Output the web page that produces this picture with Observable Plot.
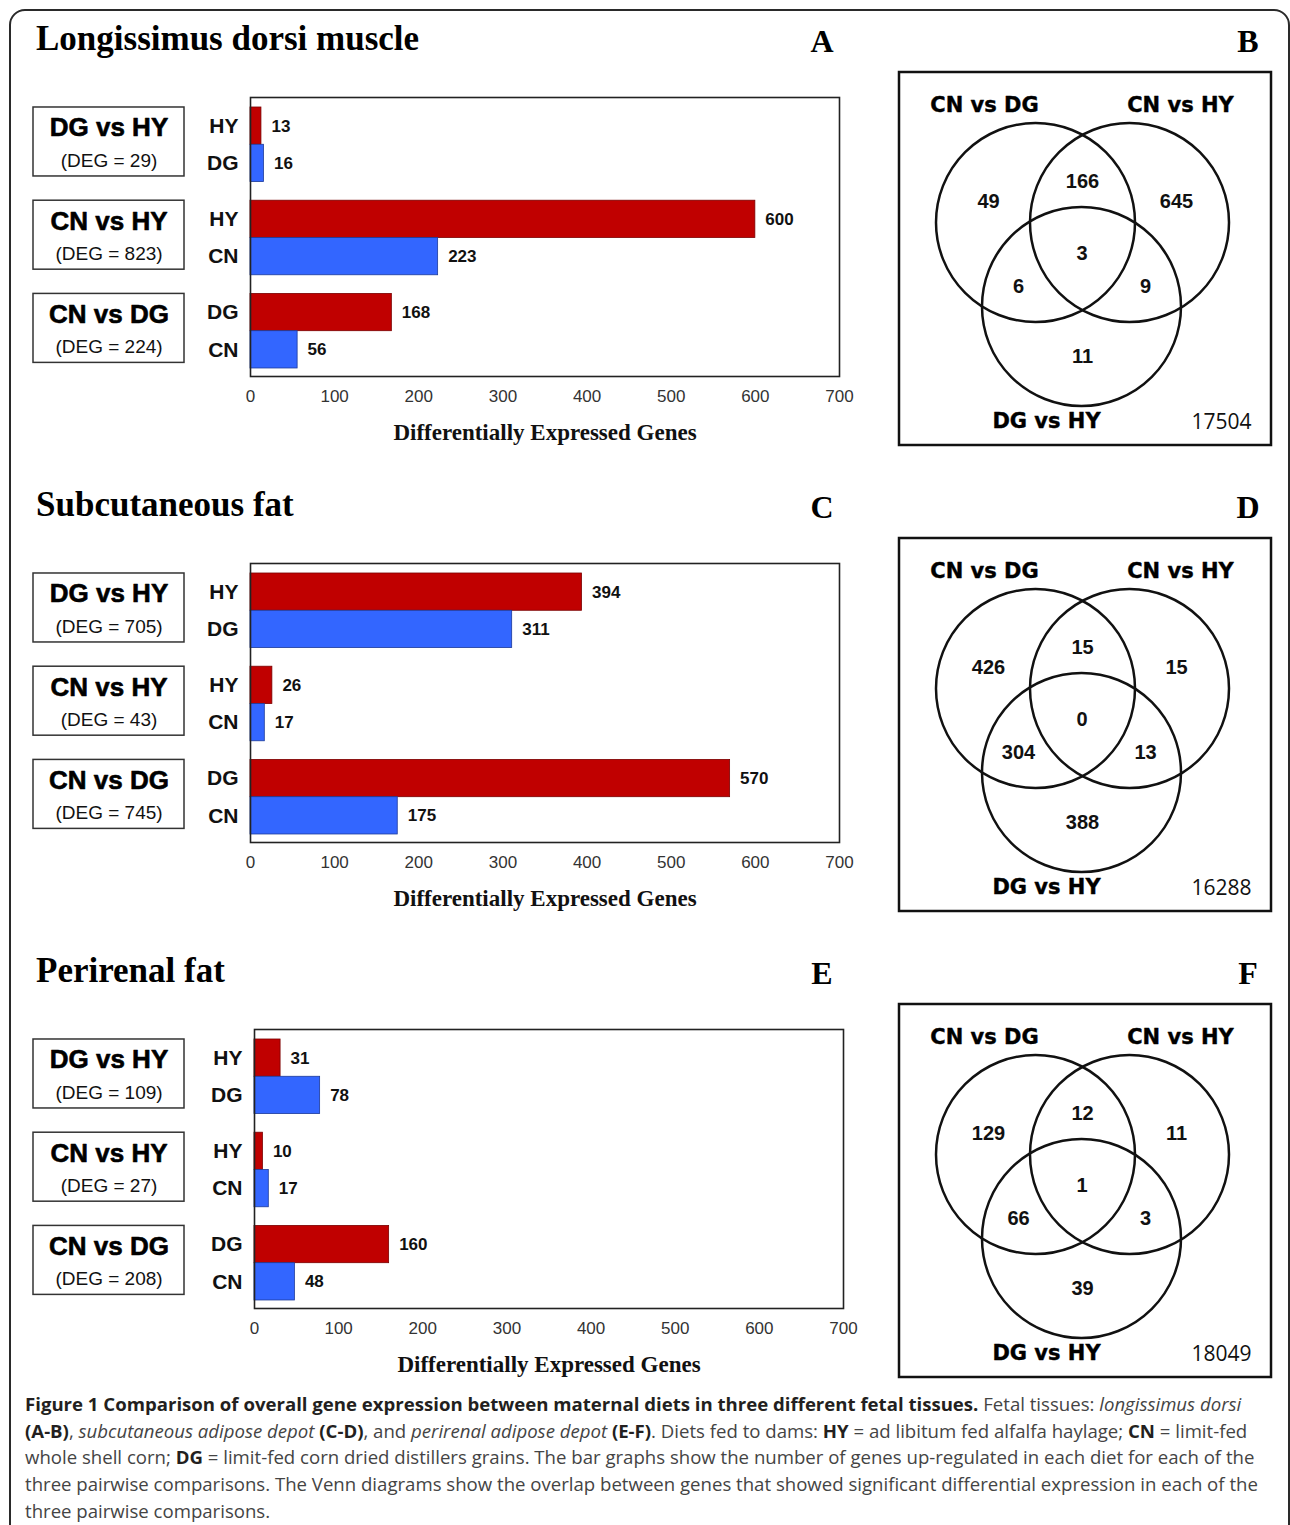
<!DOCTYPE html>
<html><head><meta charset="utf-8">
<script src="https://cdn.jsdelivr.net/npm/d3@7"></script>
<script src="https://cdn.jsdelivr.net/npm/@observablehq/plot@0.6"></script>
<style>
html,body{margin:0;padding:0;background:#fff;overflow:hidden;width:1290px;height:1525px}
#page{position:relative;width:1290px;height:1525px;overflow:hidden}
#frame{position:absolute;left:9px;top:9px;width:1281px;height:1600px;border:2px solid #2a2a2a;border-radius:16px;box-sizing:border-box}
.title{position:absolute;font-family:"Liberation Serif","Times New Roman",serif;font-weight:bold;font-size:35px;line-height:35px;color:#000;white-space:nowrap}
.letter{position:absolute;font-family:"Liberation Serif","Times New Roman",serif;font-weight:bold;font-size:32px;line-height:32px;color:#000;width:40px;text-align:center}
#caption{position:absolute;left:25px;top:1391px;width:1260px;font-family:"Open Sans",sans-serif;font-size:18.6px;line-height:26.7px;color:#444;white-space:nowrap}
#caption b{color:#231f20;font-weight:bold}
</style></head>
<body><div id="page"><div id="frame"></div><div id="caption">
<div><b>Figure 1 Comparison of overall gene expression between maternal diets in three different fetal tissues.</b> Fetal tissues: <i>longissimus dorsi</i></div>
<div><b>(A-B)</b>, <i>subcutaneous adipose depot</i> <b>(C-D)</b>, and <i>perirenal adipose depot</i> <b>(E-F)</b>. Diets fed to dams: <b>HY</b> = ad libitum fed alfalfa haylage; <b>CN</b> = limit-fed</div>
<div>whole shell corn; <b>DG</b> = limit-fed corn dried distillers grains. The bar graphs show the number of genes up-regulated in each diet for each of the</div>
<div>three pairwise comparisons. The Venn diagrams show the overlap between genes that showed significant differential expression in each of the</div>
<div>three pairwise comparisons.</div>
</div></div>
<script>
// ---------------- DATA ----------------
const tissues = ["Longissimus dorsi muscle", "Subcutaneous fat", "Perirenal fat"];
const barLetters = ["A", "C", "E"];
const vennLetters = ["B", "D", "F"];
const comparisons = ["DG vs HY", "CN vs HY", "CN vs DG"];
const upDiets = [["HY", "DG"], ["HY", "CN"], ["DG", "CN"]];
const ldRed = [13, 600, 168];
const ldBlue = [16, 223, 56];
const ldDeg = [29, 823, 224];
const scRed = [394, 26, 570];
const scBlue = [311, 17, 175];
const scDeg = [705, 43, 745];
const prRed = [31, 10, 160];
const prBlue = [78, 17, 48];
const prDeg = [109, 27, 208];
const xTicks = [0, 100, 200, 300, 400, 500, 600, 700];
const xLabel = "Differentially Expressed Genes";

const vennSets = ["CN vs DG", "CN vs HY", "DG vs HY"];
const vennRegions = ["A", "AB", "B", "ABC", "AC", "BC", "C"];
const ldVenn = [49, 166, 645, 3, 6, 9, 11];
const scVenn = [426, 15, 15, 0, 304, 13, 388];
const prVenn = [129, 12, 11, 1, 66, 3, 39];
const vennTotals = [17504, 16288, 18049];

// ---------------- LAYOUT ----------------
const rowOffset = [0, 466, 932];
const frameLeftAbs = [250, 250, 254];
const FRAME_W = 589, FRAME_H = 279, FRAME_TOP = 97;
const SVG_LEFT = 20, SVG_W = 860;
const BOX_LEFT = 33, BOX_W = 151;
const RED = "#c00000", BLUE = "#3366ff";
const SANS = "Liberation Sans, Arial, sans-serif";
const SERIF = "Liberation Serif, Times New Roman, serif";
const VENN_CENTERS = [[138, 152], [232, 152], [184, 236]];
const VENN_R = 99.5;
const REGION_OFFSETS = {A: [-47, -21], AB: [0, -41], B: [47, -21], ABC: [0, 3], AC: [-40, 22], BC: [40, 22], C: [1, 50]};
const SET_LABEL_POS = [[87, 35], [283, 35], [149, 351]];

const rows = [
  {red: ldRed, blue: ldBlue, deg: ldDeg, venn: ldVenn},
  {red: scRed, blue: scBlue, deg: scDeg, venn: scVenn},
  {red: prRed, blue: prBlue, deg: prDeg, venn: prVenn}
];

const page = document.getElementById("page");
function place(el, left, top) {
  el.style.position = "absolute"; el.style.left = left + "px"; el.style.top = top + "px";
  page.appendChild(el);
}

const PITCH = 2.5;
rows.forEach((row, r) => {
  const off = rowOffset[r];
  const t = document.createElement("div"); t.className = "title"; t.textContent = tissues[r];
  place(t, 36, 21 + off);
  const la = document.createElement("div"); la.className = "letter"; la.textContent = barLetters[r];
  place(la, 802, 25 + off);
  const lb = document.createElement("div"); lb.className = "letter"; lb.textContent = vennLetters[r];
  place(lb, 1228, 25 + off);

  const bars = [];
  comparisons.forEach((c, g) => {
    [0, 1].forEach(k => {
      const y1 = g * PITCH + k;
      bars.push({g, k, diet: upDiets[g][k], value: k === 0 ? row.red[g] : row.blue[g], y1, y2: y1 + 1, ym: y1 + 0.5});
    });
  });
  const groups = comparisons.map((c, g) => ({c, deg: row.deg[g], top: g * PITCH, yName: g * PITCH + 0.55, yDeg: g * PITCH + 1.43}));
  const mLeft = frameLeftAbs[r] - SVG_LEFT;
  const mTop = 10;
  const labelDx = BOX_LEFT + BOX_W / 2 - frameLeftAbs[r];
  const boxes = (index, scales) => {
    const gg = d3.create("svg:g");
    groups.forEach(d => {
      const top = scales.y(d.top), bottom = scales.y(d.top + 1.85);
      gg.append("rect").attr("x", BOX_LEFT - SVG_LEFT).attr("y", top).attr("width", BOX_W).attr("height", bottom - top)
        .attr("fill", "none").attr("stroke", "#333").attr("stroke-width", 1.5);
    });
    return gg.node();
  };
  const chart = Plot.plot({
    width: SVG_W, height: mTop + FRAME_H + 80,
    marginLeft: mLeft, marginRight: SVG_W - mLeft - FRAME_W, marginTop: mTop, marginBottom: 80,
    style: {fontFamily: SANS, fontSize: "17px", color: "#222", background: "transparent", overflow: "visible"},
    x: {domain: [0, 700]},
    y: {type: "linear", domain: [-0.268, 7.215], reverse: true, axis: null},
    marks: [
      Plot.rect(bars.filter(d => d.k === 0), {x1: 0, x2: "value", y1: "y1", y2: "y2", fill: RED, stroke: "#7a0000", strokeWidth: 0.8}),
      Plot.rect(bars.filter(d => d.k === 1), {x1: 0, x2: "value", y1: "y1", y2: "y2", fill: BLUE, stroke: "#1c3a9a", strokeWidth: 0.8}),
      Plot.frame({stroke: "#222", strokeWidth: 1.6}),
      Plot.axisX({ticks: xTicks, tickSize: 0, tickPadding: 13, label: null, tickFormat: d => String(d), fill: "#333"}),
      Plot.text(bars, {x: "value", y: "ym", text: d => String(d.value), dx: 10, textAnchor: "start", fontWeight: "bold", fontSize: 17, fill: "#111"}),
      Plot.text(bars, {x: 0, y: "ym", text: "diet", dx: -12, textAnchor: "end", fontWeight: "bold", fontSize: 21, fill: "#111"}),
      boxes,
      Plot.text(groups, {frameAnchor: "left", y: "yName", text: "c", dx: labelDx, textAnchor: "middle", fontWeight: "bold", fontSize: 26, fill: "#000", stroke: "#000", strokeWidth: 0.6}),
      Plot.text(groups, {frameAnchor: "left", y: "yDeg", text: d => `(DEG = ${d.deg})`, dx: labelDx, textAnchor: "middle", fontSize: 19, fill: "#111"}),
      Plot.text([xLabel], {frameAnchor: "bottom", dy: 63, fontFamily: SERIF, fontWeight: "bold", fontSize: 23, fill: "#111"})
    ]
  });
  place(chart, SVG_LEFT, FRAME_TOP - mTop + off);

  const circles = vennSets.map((s, i) => ({s, x: VENN_CENTERS[i][0], y: VENN_CENTERS[i][1], lx: SET_LABEL_POS[i][0], ly: SET_LABEL_POS[i][1]}));
  const regions = vennRegions.map((code, i) => {
    const members = code.split("").map(ch => VENN_CENTERS["ABC".indexOf(ch)]);
    const mx = d3.mean(members, d => d[0]), my = d3.mean(members, d => d[1]);
    return {code, n: row.venn[i], x: mx + REGION_OFFSETS[code][0], y: my + REGION_OFFSETS[code][1]};
  });
  const venn = Plot.plot({
    width: 375, height: 376, margin: 0,
    style: {fontFamily: SANS, background: "transparent", overflow: "visible"},
    x: {domain: [0, 375], range: [0, 375], axis: null},
    y: {domain: [0, 376], range: [0, 376], axis: null},
    marks: [
      Plot.frame({inset: 1.5, stroke: "#111", strokeWidth: 2.5}),
      Plot.dot(circles, {x: "x", y: "y", r: VENN_R, stroke: "#111", strokeWidth: 2.5, fill: "none"}),
      Plot.text(circles, {x: "lx", y: "ly", text: "s", fontFamily: "DejaVu Sans, sans-serif", fontWeight: "bold", fontSize: 21, fill: "#000", stroke: "#000", strokeWidth: 0.4, letterSpacing: "1px"}),
      Plot.text(regions, {x: "x", y: "y", text: d => String(d.n), fontWeight: "bold", fontSize: 20, fill: "#111"}),
      Plot.text([vennTotals[r]], {frameAnchor: "bottom-right", dx: -21, dy: -18, text: d => String(d), fontFamily: "Open Sans, sans-serif", fontSize: 21, fill: "#111", textAnchor: "end"})
    ]
  });
  place(venn, 897, 70 + off);
});
</script>
</body></html>
